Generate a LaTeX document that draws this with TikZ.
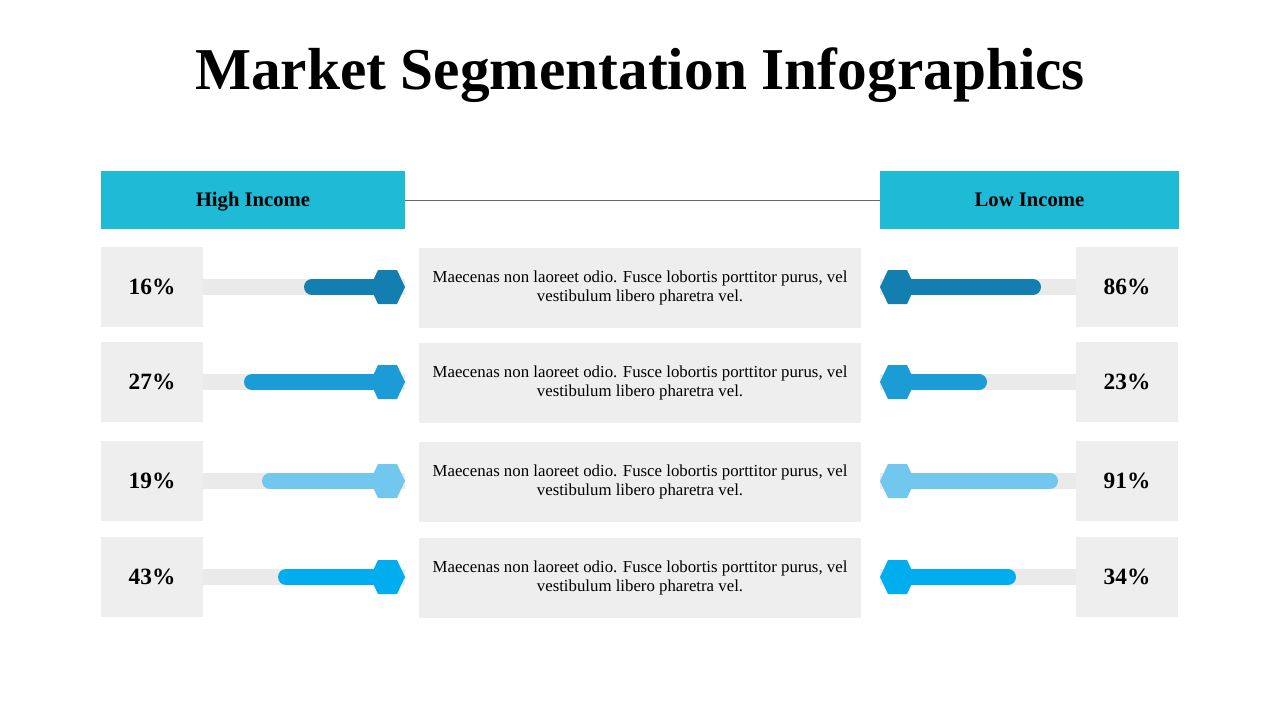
\documentclass[tikz,border=0pt]{standalone}
\usepackage{fontspec}
\setmainfont{Liberation Serif}
\usetikzlibrary{positioning,calc}
\definecolor{hdr}{RGB}{30,186,214}
\definecolor{pane}{RGB}{238,238,238}
\definecolor{track}{RGB}{234,234,234}
\definecolor{cA}{RGB}{18,127,176}
\definecolor{cB}{RGB}{28,156,214}
\definecolor{cC}{RGB}{114,199,238}
\definecolor{cD}{RGB}{0,174,239}
\tikzset{
  header/.style={fill=hdr,minimum height=43.5pt,inner sep=0,text height=13pt,text depth=3pt,font=\fontsize{15.5}{18}\selectfont\bfseries},
  pctbox/.style={fill=pane,minimum width=76.5pt,minimum height=60pt,inner sep=0,font=\fontsize{17.5}{20}\selectfont\bfseries},
  txtbox/.style={fill=pane,minimum width=331.5pt,minimum height=60pt,inner sep=0,align=center,font=\fontsize{12.6}{13.2}\selectfont},
}
\newcommand{\hexat}[2]{\fill[#2] ($(#1)+(-17.5,0)$) -- ++(8,-17) -- ++(19,0) -- ++(8,17) -- ++(-8,17) -- ++(-19,0) -- cycle;}
\begin{document}
\begin{tikzpicture}[x=0.75pt,y=0.75pt,yscale=-1]
\useasboundingbox (0,0) rectangle (1280,720);
% title
\node (title) at (640,75) {\fontsize{44.5}{50}\selectfont\bfseries Market Segmentation Infographics};
% headers
\node[header,minimum width=228pt] (high) at (253,200) {High Income};
\node[header,minimum width=224.25pt] (low) at (1029.5,200) {Low Income};
\draw[gray!80!black,line width=0.6pt] (high.east) -- (low.west);
% rows
\foreach \y/\lp/\lx/\rp/\rx/\c [count=\i] in {287/16\%/304/86\%/1041/cA, 382/27\%/244/23\%/987/cB, 481/19\%/262/91\%/1058/cC, 577/43\%/278/34\%/1016/cD}{
  \fill[track] (203,\y-8) rectangle (405,\y+8);
  \fill[track] (880,\y-8) rectangle (1076,\y+8);
  \draw[\c,line width=12pt,line cap=round] (\lx+8,\y) -- (390,\y);
  \draw[\c,line width=12pt,line cap=round] (895,\y) -- (\rx-8,\y);
  \coordinate (hl\i) at (387.5,\y);
  \coordinate (hr\i) at (897.5,\y);
  \hexat{hl\i}{\c}
  \hexat{hr\i}{\c}
  \node[pctbox] (pl\i) at (152,\y) {\lp};
  \node[pctbox] (pr\i) at (1127,\y) {\rp};
  \node[txtbox] (tx\i) at (640,\y+1) {Maecenas non laoreet odio. Fusce lobortis porttitor purus, vel\\[1.5pt]vestibulum libero pharetra vel.};
}
\end{tikzpicture}
\end{document}
